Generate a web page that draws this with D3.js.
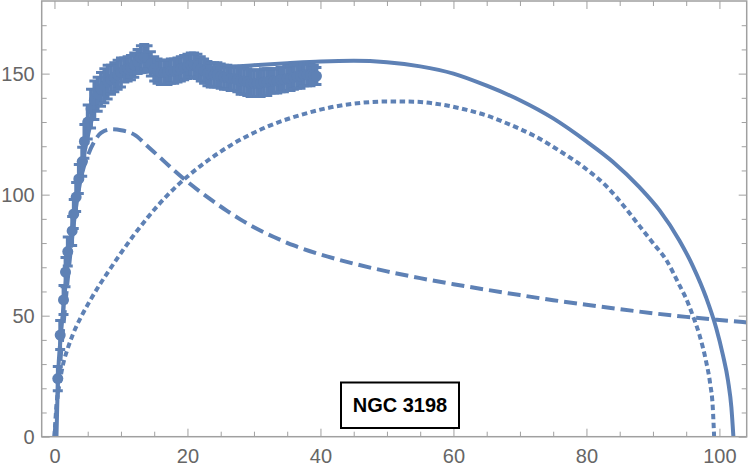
<!DOCTYPE html>
<html>
<head>
<meta charset="utf-8">
<script src="https://cdn.jsdelivr.net/npm/d3@7"></script>
<style>
  body { margin: 0; background: #fff; }
  svg { display: block; font-family: 'Liberation Sans', Arial, sans-serif; }
</style>
</head>
<body>
<div id="chart"></div>
<script>
// observed rotation curve (radius, velocity, error)
const obsR = [0.5, 0.86, 1.36, 1.66, 2.0, 2.66, 2.9, 3.26, 3.66, 4.17,
  4.5, 5.0, 5.5, 6.0, 6.5, 7.0, 7.5, 8.0, 8.5, 9.0, 9.5, 10.0, 10.5, 11.0, 11.5,
  12.0, 12.5, 13.0, 13.5, 14.0, 14.5, 15.0, 15.5, 16.0, 16.5, 17.0, 17.5, 18.0,
  18.5, 19.0, 19.5, 20.0, 20.5, 21.0, 21.5, 22.0, 22.5, 23.0, 23.5, 24.0, 24.5,
  25.0, 25.5, 26.0, 26.5, 27.0, 27.5, 28.0, 28.5, 29.0, 29.5, 30.0, 30.5, 31.0,
  31.5, 32.0, 32.5, 33.0, 33.5, 34.0, 34.5, 35.0, 35.5, 36.0, 36.5, 37.0, 37.5,
  38.0, 38.5, 39.0, 39.4];
const obsV = [24, 42, 56.5, 68, 76.5, 85, 92, 99, 106.5, 113.6,
  122, 130, 135.5, 139, 141.5, 143.5, 145, 146.5, 147.5, 148.5, 149.5, 150.5, 151.5, 152, 152.5,
  153.5, 155, 156.5, 157, 156.5, 154, 152, 151, 150.5, 150.5, 150.5, 151, 151,
  151.5, 152, 152.5, 153, 153.5, 153.5, 153, 152, 151, 150, 149.5, 149.5, 149.5,
  149, 148.5, 148.5, 148, 148, 147.5, 147, 147, 146.5, 146, 146, 146, 146,
  146.5, 146.5, 147, 147, 147, 147.5, 147.5, 148, 148, 148.5, 149, 149, 149.5,
  149.5, 149.5, 149.5, 149];
const obsE = [5, 6, 6, 6, 6, 6, 6, 6, 6, 6,
  7, 7, 8, 8, 7, 7, 7, 7, 6, 6, 6, 6, 5, 5, 5,
  5, 5, 5, 5, 5, 5, 5, 5, 5, 5, 5, 5, 5,
  5, 5, 5, 5, 5, 5, 5, 5, 5, 5, 5, 5, 5,
  5, 5, 5, 5, 5, 5, 5.5, 5.5, 5.5, 5.5, 5.5, 5.5, 5.5,
  5.5, 5.5, 5, 5, 5, 5, 5, 5, 5, 5, 5, 5, 4.5,
  4.5, 4.5, 4, 3.5];

// model: total (solid)
const totalR = [0.3, 0.5, 1, 1.5, 2, 2.5, 3, 3.5, 4, 5, 6, 7, 8, 9, 10, 12, 14, 17, 20,
  25, 30, 35, 40, 45, 50, 55, 60, 65, 70, 75, 80, 84, 88, 91, 94, 96, 98, 99.5,
  100.5, 101.3, 101.8, 102.1];
const totalV = [0, 22, 43, 58, 72, 83, 93, 102, 110, 124, 135, 141.5, 145.5, 147.5, 148.8,
  150, 150.8, 151.3, 151.8, 152.5, 153.5, 154.3, 155, 155.3, 154.7, 153, 150, 145, 139,
  131.5, 122, 113.5, 103, 93.5, 81, 70.5, 57.5, 45, 34, 23, 12, 0];

// model: disk (dashed)
const diskR = [0, 1, 2, 3, 4, 5, 6, 7, 8.5, 10, 12, 14, 16, 18, 20, 22, 24, 26, 28, 30,
  33, 36, 40, 45, 50, 55, 60, 65, 70, 75, 80, 85, 90, 95, 100, 104.2];
const diskV = [0, 35, 65, 90, 107, 116, 122, 125.5, 127, 126.6, 124.8, 120, 115, 110, 105.3,
  101, 97, 93.2, 89.7, 86.5, 82.5, 79, 75.3, 71.5, 68.3, 65.5, 63, 60.7, 58.5, 56.4, 54.5,
  52.7, 51, 49.5, 48.2, 47.2];

// model: halo (dotted)
const haloR = [0, 0.3, 0.7, 1.3, 2, 2.8, 4, 5.3, 6.8, 8, 10, 12, 14, 17, 20, 23, 27, 32,
  37, 42, 46, 50, 54, 58, 62, 65, 68, 72, 76, 80, 83, 86, 88, 90, 92, 94, 95, 96, 97,
  98, 98.6, 99, 99.2];
const haloV = [0, 13, 21, 30, 36.5, 42.5, 49.5, 56, 62.8, 67.8, 75.9, 83.5, 90.5, 99.8,
  107.5, 114, 121.2, 128.1, 132.9, 136.3, 137.9, 138.5, 138.4, 137.3, 135, 132.7, 129.5,
  124.5, 118, 110.5, 103.5, 94, 87, 80, 73, 62.5, 57, 50, 42, 31, 22, 12, 0];

const xMajor = [0, 20, 40, 60, 80, 100];
const xMinor = [5, 10, 15, 25, 30, 35, 45, 50, 55, 65, 70, 75, 85, 90, 95];
const yMajor = [0, 50, 100, 150];
const yMinor = [10, 20, 30, 40, 60, 70, 80, 90, 110, 120, 130, 140, 160, 170];
const label = 'NGC 3198';

(function() {
  const width = 750;
  const height = 473;
  const color = '#5e81b5';
  const frameColor = '#a0a0a0';

  const xScale = d3.scaleLinear()
    .domain([-1.92, 104.1])
    .range([41.7, 746.7]);
  const yScale = d3.scaleLinear()
    .domain([0, 180])
    .range([436.7, 1]);

  const svg = d3.select('#chart').append('svg')
    .attr('width', width)
    .attr('height', height);

  svg.append('defs').append('clipPath')
    .attr('id', 'plot')
    .append('rect')
    .attr('x', xScale.range()[0])
    .attr('y', yScale.range()[1])
    .attr('width', xScale.range()[1] - xScale.range()[0])
    .attr('height', yScale.range()[0] - yScale.range()[1]);

  // frame ticks (inward), labels on left and bottom only
  const styleAxis = g => {
    g.select('.domain').remove();
    g.selectAll('.tick line').attr('stroke', frameColor).attr('stroke-width', 1);
    g.selectAll('.tick text')
      .attr('fill', '#666')
      .style('font-size', '20px')
      .style('font-family', "'Liberation Sans', Arial, sans-serif");
  };
  const x0 = xScale.range()[0], x1 = xScale.range()[1];
  const y0 = yScale.range()[0], y1 = yScale.range()[1];

  svg.append('g')
    .attr('transform', `translate(0, ${y0})`)
    .call(d3.axisBottom(xScale).tickValues(xMajor).tickSize(-8).tickPadding(12))
    .call(styleAxis);
  svg.append('g')
    .attr('transform', `translate(0, ${y0})`)
    .call(d3.axisBottom(xScale).tickValues(xMinor).tickSize(-5).tickFormat(''))
    .call(styleAxis);
  svg.append('g')
    .attr('transform', `translate(0, ${y1})`)
    .call(d3.axisTop(xScale).tickValues(xMajor).tickSize(-8).tickFormat(''))
    .call(styleAxis);
  svg.append('g')
    .attr('transform', `translate(0, ${y1})`)
    .call(d3.axisTop(xScale).tickValues(xMinor).tickSize(-5).tickFormat(''))
    .call(styleAxis);
  svg.append('g')
    .attr('transform', `translate(${x0}, 0)`)
    .call(d3.axisLeft(yScale).tickValues(yMajor).tickSize(-8).tickPadding(7))
    .call(styleAxis);
  svg.append('g')
    .attr('transform', `translate(${x0}, 0)`)
    .call(d3.axisLeft(yScale).tickValues(yMinor).tickSize(-5).tickFormat(''))
    .call(styleAxis);
  svg.append('g')
    .attr('transform', `translate(${x1}, 0)`)
    .call(d3.axisRight(yScale).tickValues(yMajor).tickSize(-8).tickFormat(''))
    .call(styleAxis);
  svg.append('g')
    .attr('transform', `translate(${x1}, 0)`)
    .call(d3.axisRight(yScale).tickValues(yMinor).tickSize(-5).tickFormat(''))
    .call(styleAxis);

  const plot = svg.append('g').attr('clip-path', 'url(#plot)');

  const line = d3.line()
    .curve(d3.curveMonotoneX)
    .x(d => xScale(d[0]))
    .y(d => yScale(d[1]));

  const curves = [
    {r: haloR, v: haloV, dash: '5.5,3.5'},
    {r: diskR, v: diskV, dash: '13,6'},
    {r: totalR, v: totalV, dash: null}
  ];
  curves.forEach(c => {
    plot.append('path')
      .datum(c.r.map((r, i) => [r, c.v[i]]))
      .attr('fill', 'none')
      .attr('stroke', color)
      .attr('stroke-width', 4)
      .attr('stroke-dasharray', c.dash)
      .attr('d', line);
  });

  // observations with error bars
  const obs = obsR.map((r, i) => ({r: r, v: obsV[i], e: obsE[i]}));
  const pts = plot.append('g').selectAll('g')
    .data(obs)
    .enter().append('g');
  pts.append('line')
    .attr('x1', d => xScale(d.r))
    .attr('x2', d => xScale(d.r))
    .attr('y1', d => yScale(d.v - d.e))
    .attr('y2', d => yScale(d.v + d.e))
    .attr('stroke', color)
    .attr('stroke-width', 3.8);
  [-1, 1].forEach(s => {
    pts.append('line')
      .attr('x1', d => xScale(d.r) - 5)
      .attr('x2', d => xScale(d.r) + 5)
      .attr('y1', d => yScale(d.v + s * d.e))
      .attr('y2', d => yScale(d.v + s * d.e))
      .attr('stroke', color)
      .attr('stroke-width', 3);
  });
  pts.append('circle')
    .attr('cx', d => xScale(d.r))
    .attr('cy', d => yScale(d.v))
    .attr('r', 5.5)
    .attr('fill', color);

  // frame
  svg.append('rect')
    .attr('x', x0)
    .attr('y', y1)
    .attr('width', x1 - x0)
    .attr('height', y0 - y1)
    .attr('fill', 'none')
    .attr('stroke', frameColor)
    .attr('stroke-width', 1.5);

  // label box
  const box = svg.append('g').attr('transform', 'translate(400, 405)');
  box.append('rect')
    .attr('x', -59)
    .attr('y', -22.5)
    .attr('width', 118)
    .attr('height', 45.5)
    .attr('fill', '#fff')
    .attr('stroke', '#000')
    .attr('stroke-width', 2);
  box.append('text')
    .attr('text-anchor', 'middle')
    .attr('y', 7)
    .style('font-size', '20px')
    .style('font-weight', 'bold')
    .text(label);
})();
</script>
</body>
</html>
